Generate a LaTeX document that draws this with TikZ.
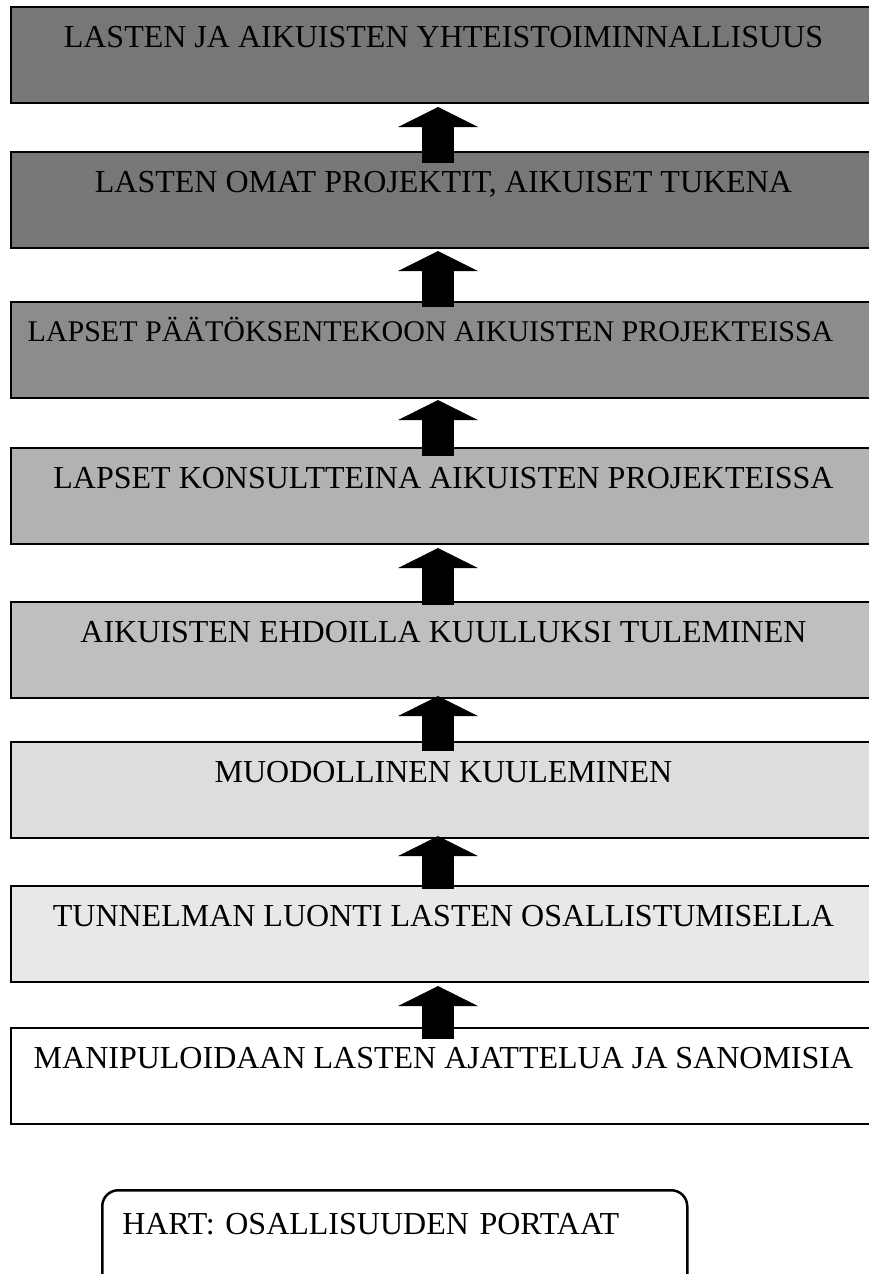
\documentclass[tikz,border=0pt]{standalone}
\usepackage{fontspec}
\setmainfont{Liberation Serif}
\usetikzlibrary{arrows.meta,calc}
\definecolor{c1}{HTML}{777777}
\definecolor{c2}{HTML}{777777}
\definecolor{c3}{HTML}{8C8C8C}
\definecolor{c4}{HTML}{B2B2B2}
\definecolor{c5}{HTML}{BFBFBF}
\definecolor{c6}{HTML}{DDDDDD}
\definecolor{c7}{HTML}{E8E8E8}
\definecolor{c8}{HTML}{FFFFFF}
\tikzset{
  stair/.style={draw=black, line width=2pt, fill=#1, rectangle, inner sep=0pt,
    minimum width=865pt, text height=40pt, text depth=56pt,
    font=\fontsize{32}{38}\selectfont},
  blockarrow/.style={line width=32pt, black,
    -{Triangle[width=80pt,length=20pt,line width=0pt]}},
  titlebox/.style={draw=black, line width=2.5pt, rounded corners=16pt, rectangle,
    inner ysep=0pt, inner xsep=20pt, text width=545pt, align=left,
    text height=44pt, text depth=67pt, font=\fontsize{32}{38}\selectfont}
}
\begin{document}
\begin{tikzpicture}[x=1pt,y=-1pt]
\useasboundingbox (0,0) rectangle (869,1274);
\clip (0,0) rectangle (869,1274);
\node[stair=c1] (b1) at (443.5,55)   {LASTEN JA AIKUISTEN YHTEISTOIMINNALLISUUS};
\node[stair=c2] (b2) at (443.5,200)  {LASTEN OMAT PROJEKTIT, AIKUISET TUKENA};
\node[stair=c3, font=\fontsize{30}{36}\selectfont, text height=39pt, text depth=57pt] (b3) at (443.5,350)
  {\hspace*{-26pt}LAPSET PÄÄTÖKSENTEKOON AIKUISTEN PROJEKTEISSA};
\node[stair=c4] (b4) at (443.5,496)  {LAPSET KONSULTTEINA AIKUISTEN PROJEKTEISSA};
\node[stair=c5] (b5) at (443.5,650)  {AIKUISTEN EHDOILLA KUULLUKSI TULEMINEN};
\node[stair=c6] (b6) at (443.5,790)  {MUODOLLINEN KUULEMINEN};
\node[stair=c7] (b7) at (443.5,934)  {TUNNELMAN LUONTI LASTEN OSALLISTUMISELLA};
\node[stair=c8] (b8) at (443.5,1076) {MANIPULOIDAAN LASTEN AJATTELUA JA SANOMISIA};
\draw[blockarrow] ($(b2.north)+(-5.5,12)$) -- ($(b1.south)+(-5.5,3)$);
\draw[blockarrow] ($(b3.north)+(-5.5,6)$)  -- ($(b2.south)+(-5.5,2)$);
\draw[blockarrow] ($(b4.north)+(-5.5,9)$)  -- ($(b3.south)+(-5.5,1)$);
\draw[blockarrow] ($(b5.north)+(-5.5,4)$)  -- ($(b4.south)+(-5.5,3)$);
\draw[blockarrow] ($(b6.north)+(-5.5,10)$) -- ($(b5.south)+(-5.5,-3)$);
\draw[blockarrow] ($(b7.north)+(-5.5,4)$)  -- ($(b6.south)+(-5.5,-3)$);
\draw[blockarrow] ($(b8.north)+(-5.5,12)$) -- ($(b7.south)+(-5.5,3)$);
\node[titlebox, anchor=north west] (hart) at (101,1189) {HART: OSALLISUUDEN PORTAAT};
\end{tikzpicture}
\end{document}
